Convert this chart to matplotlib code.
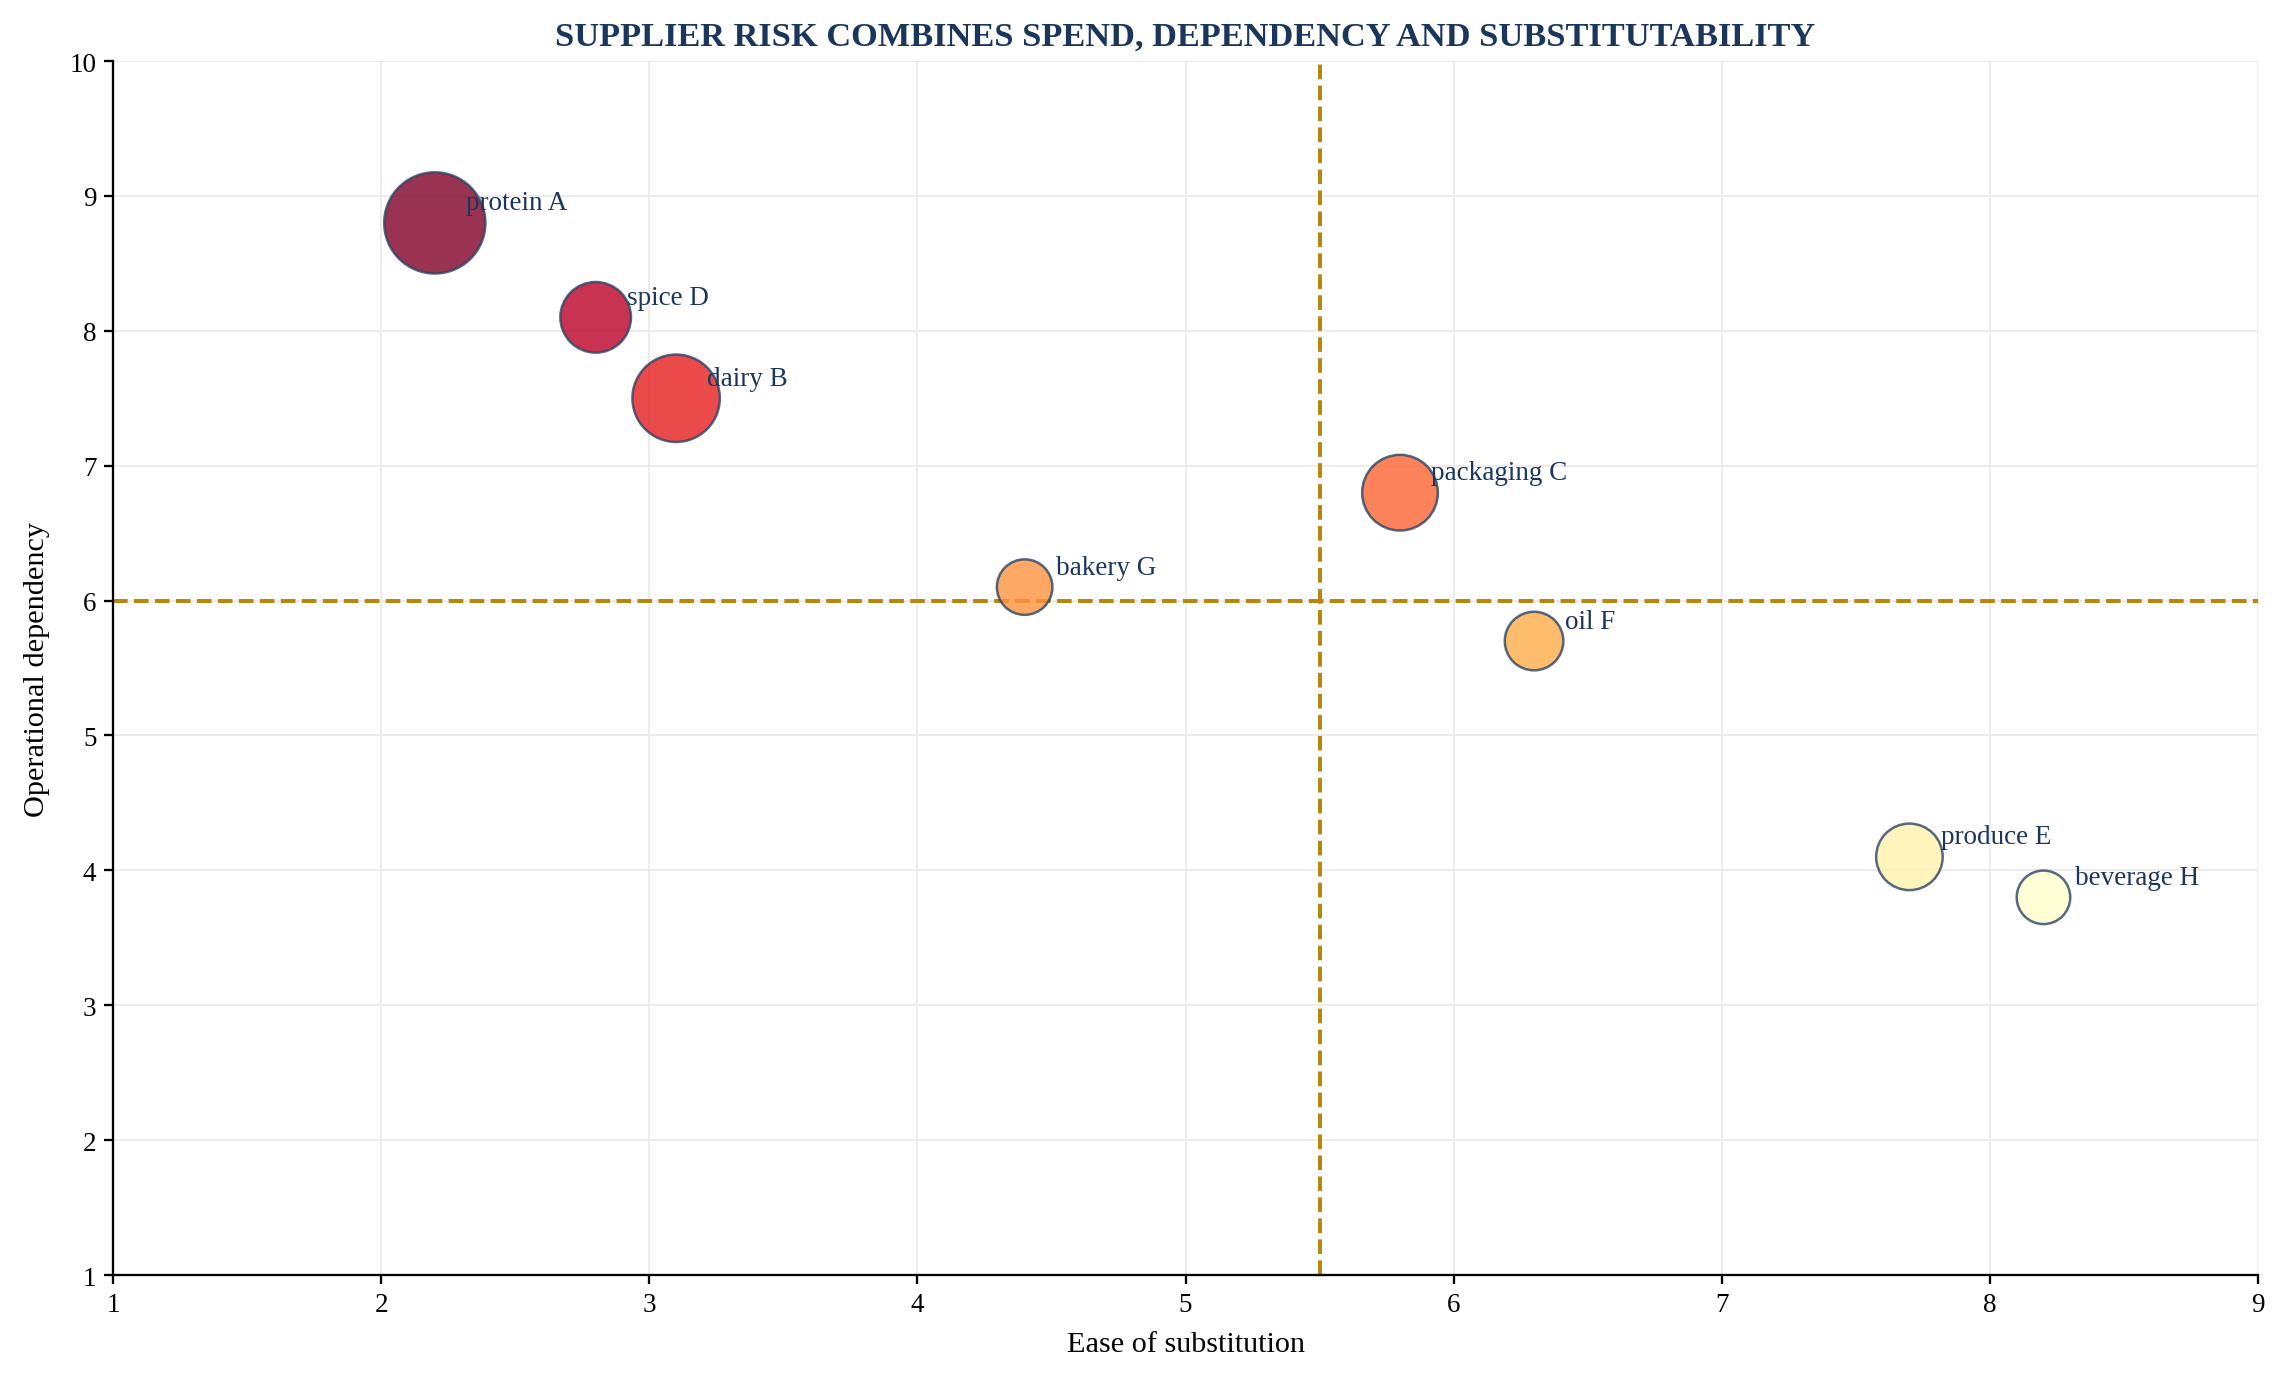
import matplotlib
matplotlib.use("Agg")
import matplotlib.pyplot as plt
from matplotlib import colors as mcolors
import numpy as np

# ---- data ----
suppliers = ["protein A", "dairy B", "packaging C", "spice D",
             "produce E", "oil F", "bakery G", "beverage H"]
ease = [2.2, 3.1, 5.8, 2.8, 7.7, 6.3, 4.4, 8.2]          # ease of substitution
dependency = [8.8, 7.5, 6.8, 8.1, 4.1, 5.7, 6.1, 3.8]    # operational dependency
spend_k = [1180, 880, 660, 575, 510, 395, 355, 330]      # annual spend ($k)
risk = [92, 75, 65, 84, 33, 53, 58, 27]                  # composite risk score
x_threshold = 5.5
y_threshold = 6.0
x_ticks = [1, 2, 3, 4, 5, 6, 7, 8, 9]
y_ticks = [1, 2, 3, 4, 5, 6, 7, 8, 9, 10]

plt.rcParams['font.family'] = ['Liberation Serif', 'DejaVu Serif']
navy = "#1b365d"

fig = plt.figure(figsize=(2284 / 150, 1385 / 150), dpi=150)
ax = fig.add_axes([0.0495, 0.0787, 0.9391, 0.8765])

norm = mcolors.Normalize(vmin=min(risk), vmax=max(risk))
ax.scatter(ease, dependency, s=np.array(spend_k) * 2.0, c=risk, cmap="YlOrRd",
           norm=norm, alpha=0.8, edgecolors="#2b4468", linewidths=1.2, zorder=3)

for name, x, y in zip(suppliers, ease, dependency):
    ax.annotate(name, (x, y), xytext=(15, 6.5), textcoords="offset points",
                fontsize=13, color=navy, zorder=4)

ax.axvline(x_threshold, color="#b8860b", linestyle="--", linewidth=1.9, zorder=2)
ax.axhline(y_threshold, color="#b8860b", linestyle="--", linewidth=1.9, zorder=2)

ax.set_xlim(1, 9)
ax.set_ylim(1, 10)
ax.set_xticks(x_ticks)
ax.set_yticks(y_ticks)
ax.grid(True, color="#ebebeb", linewidth=0.9, zorder=0)
ax.set_axisbelow(True)
for side in ["top", "right"]:
    ax.spines[side].set_visible(False)
for side in ["left", "bottom"]:
    ax.spines[side].set_linewidth(1.1)
ax.tick_params(axis="both", labelsize=13, length=4.5, width=1.1, colors="black")

ax.set_xlabel("Ease of substitution", fontsize=14.5, labelpad=7)
ax.set_ylabel("Operational dependency", fontsize=14.5, labelpad=9.5)
ax.set_title("SUPPLIER RISK COMBINES SPEND, DEPENDENCY AND SUBSTITUTABILITY",
             fontsize=16.5, fontweight="bold", color=navy, pad=8)

fig.savefig("out.png", dpi=150)
